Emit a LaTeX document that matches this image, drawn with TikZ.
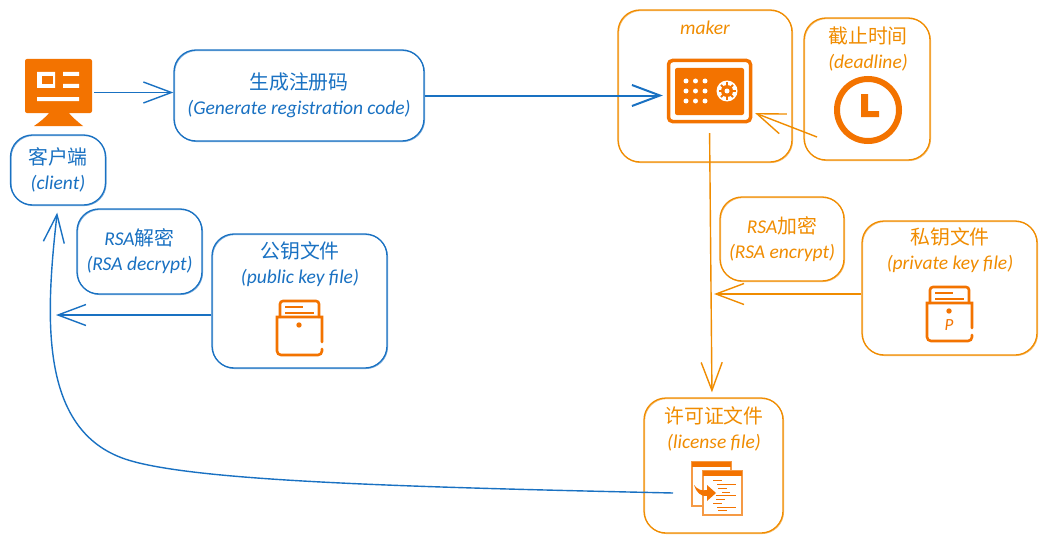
\documentclass[tikz,border=0pt]{standalone}
\usepackage{fontspec}
\setmainfont{Carlito}
\newfontfamily\cjk[Scale=1.02]{Noto Sans CJK SC}
\usetikzlibrary{arrows.meta}
\definecolor{penblue}{HTML}{1971C2}
\definecolor{penorange}{HTML}{F08C00}
\definecolor{iconorange}{HTML}{F37300}
\definecolor{iconpale}{HTML}{F59A45}
\tikzset{
  sketchbox/.style={draw=#1,text=#1,line width=1.3pt,rounded corners=22pt,inner sep=0pt,align=center,
    font=\fontsize{19.5}{25}\selectfont\itshape,
    postaction={draw=#1,line width=.7pt,opacity=.6,transform canvas={xshift=.7pt,yshift=-.7pt}}},
  boxtext/.style={text=#1,inner sep=0pt,align=center,font=\fontsize{19.5}{25}\selectfont\itshape},
  barbline/.style={draw=#1,line width=1.4pt,-{Straight Barb[length=28pt,width=21pt]}},
  icon/.style={inner sep=0pt,minimum width=#1}
}
\begin{document}
\begin{tikzpicture}[x=1pt,y=-1pt]
  \useasboundingbox (0,0) rectangle (1047,543);
  \fill[white] (0,0) rectangle (1047,543);

  \node[sketchbox=penblue,minimum width=95,minimum height=70] (client) at (58,170) {{\cjk 客户端}\\(client)};
  \node[sketchbox=penblue,minimum width=250,minimum height=91] (gen) at (299,95.5) {{\cjk 生成注册码}\\(Generate registration code)};
  \node[sketchbox=penblue,minimum width=125,minimum height=85] (decrypt) at (139.5,251.5) {RSA{\cjk 解密}\\(RSA decrypt)};
  \node[sketchbox=penblue,minimum width=175,minimum height=134] (pub) at (299.5,301) {};
  \node[boxtext=penblue] (publabel) at (300,264) {{\cjk 公钥文件}\\(public key file)};
  \node[sketchbox=penorange,minimum width=174,minimum height=152] (maker) at (705,86) {};
  \node[boxtext=penorange] (makerlabel) at (705,28) {maker};
  \node[sketchbox=penorange,minimum width=126,minimum height=142] (deadline) at (867,89) {};
  \node[boxtext=penorange] (deadlinelabel) at (868,49) {{\cjk 截止时间}\\(deadline)};
  \node[sketchbox=penorange,minimum width=124,minimum height=84] (encrypt) at (782,239) {RSA{\cjk 加密}\\(RSA encrypt)};
  \node[sketchbox=penorange,minimum width=175,minimum height=134] (priv) at (949.5,288) {};
  \node[boxtext=penorange] (privlabel) at (950,250) {{\cjk 私钥文件}\\(private key file)};
  \node[sketchbox=penorange,minimum width=139,minimum height=135] (license) at (713.5,465.5) {};
  \node[boxtext=penorange] (licenselabel) at (714,429) {{\cjk 许可证文件}\\(license file)};

  \node[icon=71,minimum height=67] (monitor) at (58.5,92.5) {};
  \node[icon=85,minimum height=64] (safe) at (709.5,91) {};
  \coordinate (safecorner) at (755,113); \coordinate (clockfoot) at (817,137);
  \coordinate (encjoin) at (714,294); \coordinate (clientin) at (56,315);
  \coordinate (licout) at (673,493); \coordinate (curvebend) at (125,459);

  \draw[barbline=penblue] (monitor.east) -- (monitor.east -| gen.west);
  \draw[barbline=penblue,line width=2pt,shorten >=4pt] (gen.east) -- (safe.west |- gen.east);
  \draw[barbline=penorange] (clockfoot) -- (safecorner);
  \draw[barbline=penorange,shorten <=10pt,shorten >=5pt] (safe.south) -- ([xshift=-1.5pt]license.north);
  \draw[barbline=penorange] (priv.west |- encjoin) -- (encjoin);
  \draw[barbline=penblue] (pub.west |- clientin) -- (clientin);
  \draw[barbline=penblue,shorten >=7pt] (licout) .. controls (400,487) and (190,481) .. (curvebend) .. controls (40,430) and (45,320) .. (client.south);

  \fill[iconorange,rounded corners=2pt] (25,59) rectangle (92,113);
  \fill[iconorange] (50,112) -- (68,112) .. controls (72,117) and (78,122) .. (83,126) -- (34,126) .. controls (40,122) and (46,117) .. (50,112) -- cycle;
  \fill[white] (37,72) rectangle (55,88) (63,72) rectangle (79,76) (63,84) rectangle (79,88) (37,97) rectangle (79,101);
  \fill[iconorange] (42,76) rectangle (53,84);

  \draw[iconorange,line width=3.5pt,rounded corners=4pt] (668.5,60.5) rectangle (750.5,121.5);
  \fill[iconorange,rounded corners=2pt] (675,68) rectangle (744,115);
  \foreach \dx in {686,695.5,705} \foreach \dy in {81,91,101} \fill[white] (\dx,\dy) circle (2.5);
  \fill[white] (727,91) circle (10.5);
  \fill[iconorange] (727,91) circle (6);
  \foreach \ang in {0,45,...,315} \draw[iconorange,line width=2pt] (727,91) -- ++(\ang:8.5);
  \fill[white] (727,91) circle (2.5);

  \draw[iconorange,line width=6pt] (868,110) circle (31);
  \fill[iconorange] (861,94) -- (868,94) -- (868,111) -- (879,111) -- (879,117) -- (861,117) -- cycle;

  \foreach \kx/\ky in {277/317,927/303} {
    \draw[iconorange,line width=2.6pt,line cap=round,shift={(\kx,\ky)},rounded corners=3pt] (3,0) -- (3,-16) -- (42,-16) -- (42,0);
    \draw[iconorange,line width=2.6pt,line cap=round,shift={(\kx,\ky)}] (45,25) -- (45,0) -- (0,0) [rounded corners=4pt] -- (0,38) -- (45,38) -- (45,32);
    \draw[iconorange,line width=1.4pt,shift={(\kx,\ky)}] (8,-10) -- (26,-10) (8,-4) -- (37,-4);
  }
  \fill[iconorange] (299,325) circle (2.7) (949,311) circle (2.7);
  \node[text=iconorange,inner sep=0pt,font=\fontsize{17}{17}\selectfont\itshape] (pletter) at (949,325) {P};

  \foreach \wx/\wy in {692/462,703/471} {
    \fill[white] (\wx,\wy) rectangle ++(39,44);
    \draw[iconpale,line width=1.3pt] (\wx,\wy) rectangle ++(39,44);
    \fill[iconorange] (\wx,\wy) rectangle ++(39,5);
  }
  \foreach \xa/\xb/\yy in {713/722/480,717/736/484,718/727/488,722/730/492,716/736/495,716/725/499,713/722/503,717/736/507,718/727/510}
    \draw[iconorange,line width=.7pt] (\xa,\yy) -- (\xb,\yy);
  \fill[iconorange] (694,485) .. controls (698,490) and (702,491) .. (707,490) -- (707,485) -- (716,493) -- (707,501) -- (707,496) .. controls (701,497) and (696,492) .. (694,485) -- cycle;
\end{tikzpicture}
\end{document}
